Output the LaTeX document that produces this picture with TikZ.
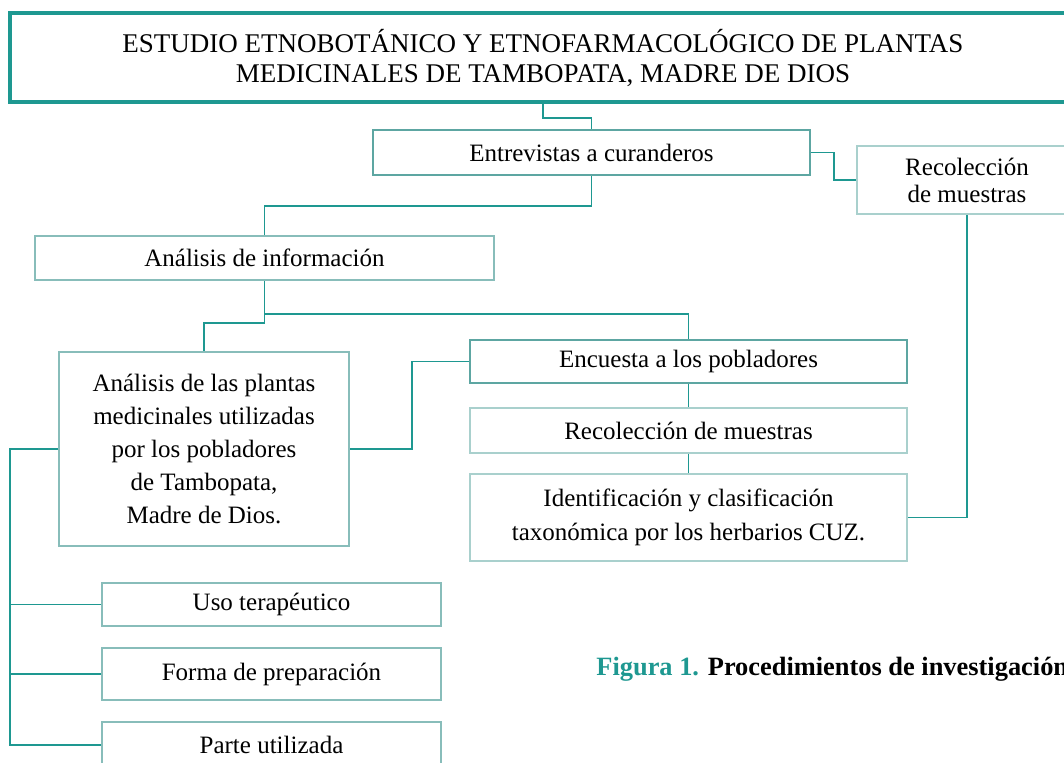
\documentclass[tikz,border=0pt]{standalone}
\usepackage{fontspec}
\setmainfont{Liberation Serif}
\usepackage{tikz}
\usetikzlibrary{positioning}

\definecolor{tealline}{HTML}{1E9891}
\definecolor{boxdark}{HTML}{5DA6A2}
\definecolor{boxmid}{HTML}{88BDBA}
\definecolor{boxlight}{HTML}{A9D0CD}

\begin{document}
\begin{tikzpicture}[
    x=0.5pt, y=-0.5pt,
    every node/.style={
        rectangle,
        inner sep=0pt,
        align=center,
        font=\fontsize{12.5}{16.5}\selectfont
    },
    box/.style={draw=boxmid, line width=1pt},
    boxd/.style={draw=boxdark, line width=1pt},
    boxl/.style={draw=boxlight, line width=1pt},
    link/.style={draw=tealline, line width=0.8pt}
]
\clip (0,0) rectangle (1064,762);

\node[draw=tealline, line width=2pt, minimum width=533pt, minimum height=44.5pt,
      font=\fontsize{13.5}{15}\selectfont] (title) at (543,57.5)
    {ESTUDIO ETNOBOTÁNICO Y ETNOFARMACOLÓGICO DE PLANTAS\\MEDICINALES DE TAMBOPATA, MADRE DE DIOS};

\node[boxd, minimum width=218.5pt, minimum height=22.5pt] (entrev) at (591.5,152.5)
    {Entrevistas a curanderos};
\node[boxl, minimum width=110pt, minimum height=34pt,
      font=\fontsize{12.5}{13.5}\selectfont] (recol) at (967,180)
    {Recolección\\de muestras};
\node[box, minimum width=229.5pt, minimum height=22pt] (anainfo) at (264.5,258)
    {Análisis de información};
\node[box, minimum width=145pt, minimum height=97pt] (plantas) at (204,449)
    {Análisis de las plantas\\medicinales utilizadas\\por los pobladores\\de Tambopata,\\Madre de Dios.};
\node[boxd, minimum width=218.5pt, minimum height=21.5pt] (encuesta) at (688.5,361.5)
    {Encuesta a los pobladores};
\node[boxl, minimum width=218.5pt, minimum height=22.5pt] (recmues) at (688.5,430.5)
    {Recolección de muestras};
\node[boxl, minimum width=218.5pt, minimum height=43.5pt,
      font=\fontsize{12.5}{17}\selectfont] (ident) at (688.5,517.5)
    {Identificación y clasificación\\taxonómica por los herbarios CUZ.};
\node[box, minimum width=169.5pt, minimum height=21.5pt] (uso) at (271.5,604.5)
    {Uso terapéutico};
\node[box, minimum width=169.5pt, minimum height=26pt] (forma) at (271.5,674)
    {Forma de preparación};
\node[box, minimum width=169.5pt, minimum height=23pt] (parte) at (271.5,745)
    {Parte utilizada};

\node[anchor=west, font=\fontsize{13.2}{15}\selectfont\bfseries] (caption) at (596,669)
    {\textcolor{tealline}{Figura 1.} Procedimientos de investigación};

% connectors
\draw[link] (title.south) -- ++(0,14) -| (entrev.north);
\draw[link] (entrev.east) -- ++(23,0) |- (recol.west);
\draw[link] (entrev.south) -- ++(0,30) -| (anainfo.north);
\draw[link] (anainfo.south) -- ++(0,42) -| (plantas.north);
\draw[link] (anainfo.south) -- ++(0,33) -| (encuesta.north);
\draw[link] (plantas.east) -- ++(62,0) |- (encuesta.west);
\draw[link] (encuesta.south) -- (recmues.north);
\draw[link] (recmues.south) -- (ident.north);
\draw[link] (recol.south) |- (ident.east);
\draw[link] (plantas.west) -- ++(-48,0) coordinate (rail) |- (parte.west);
\draw[link] (rail |- uso.west) -- (uso.west);
\draw[link] (rail |- forma.west) -- (forma.west);
\end{tikzpicture}
\end{document}
